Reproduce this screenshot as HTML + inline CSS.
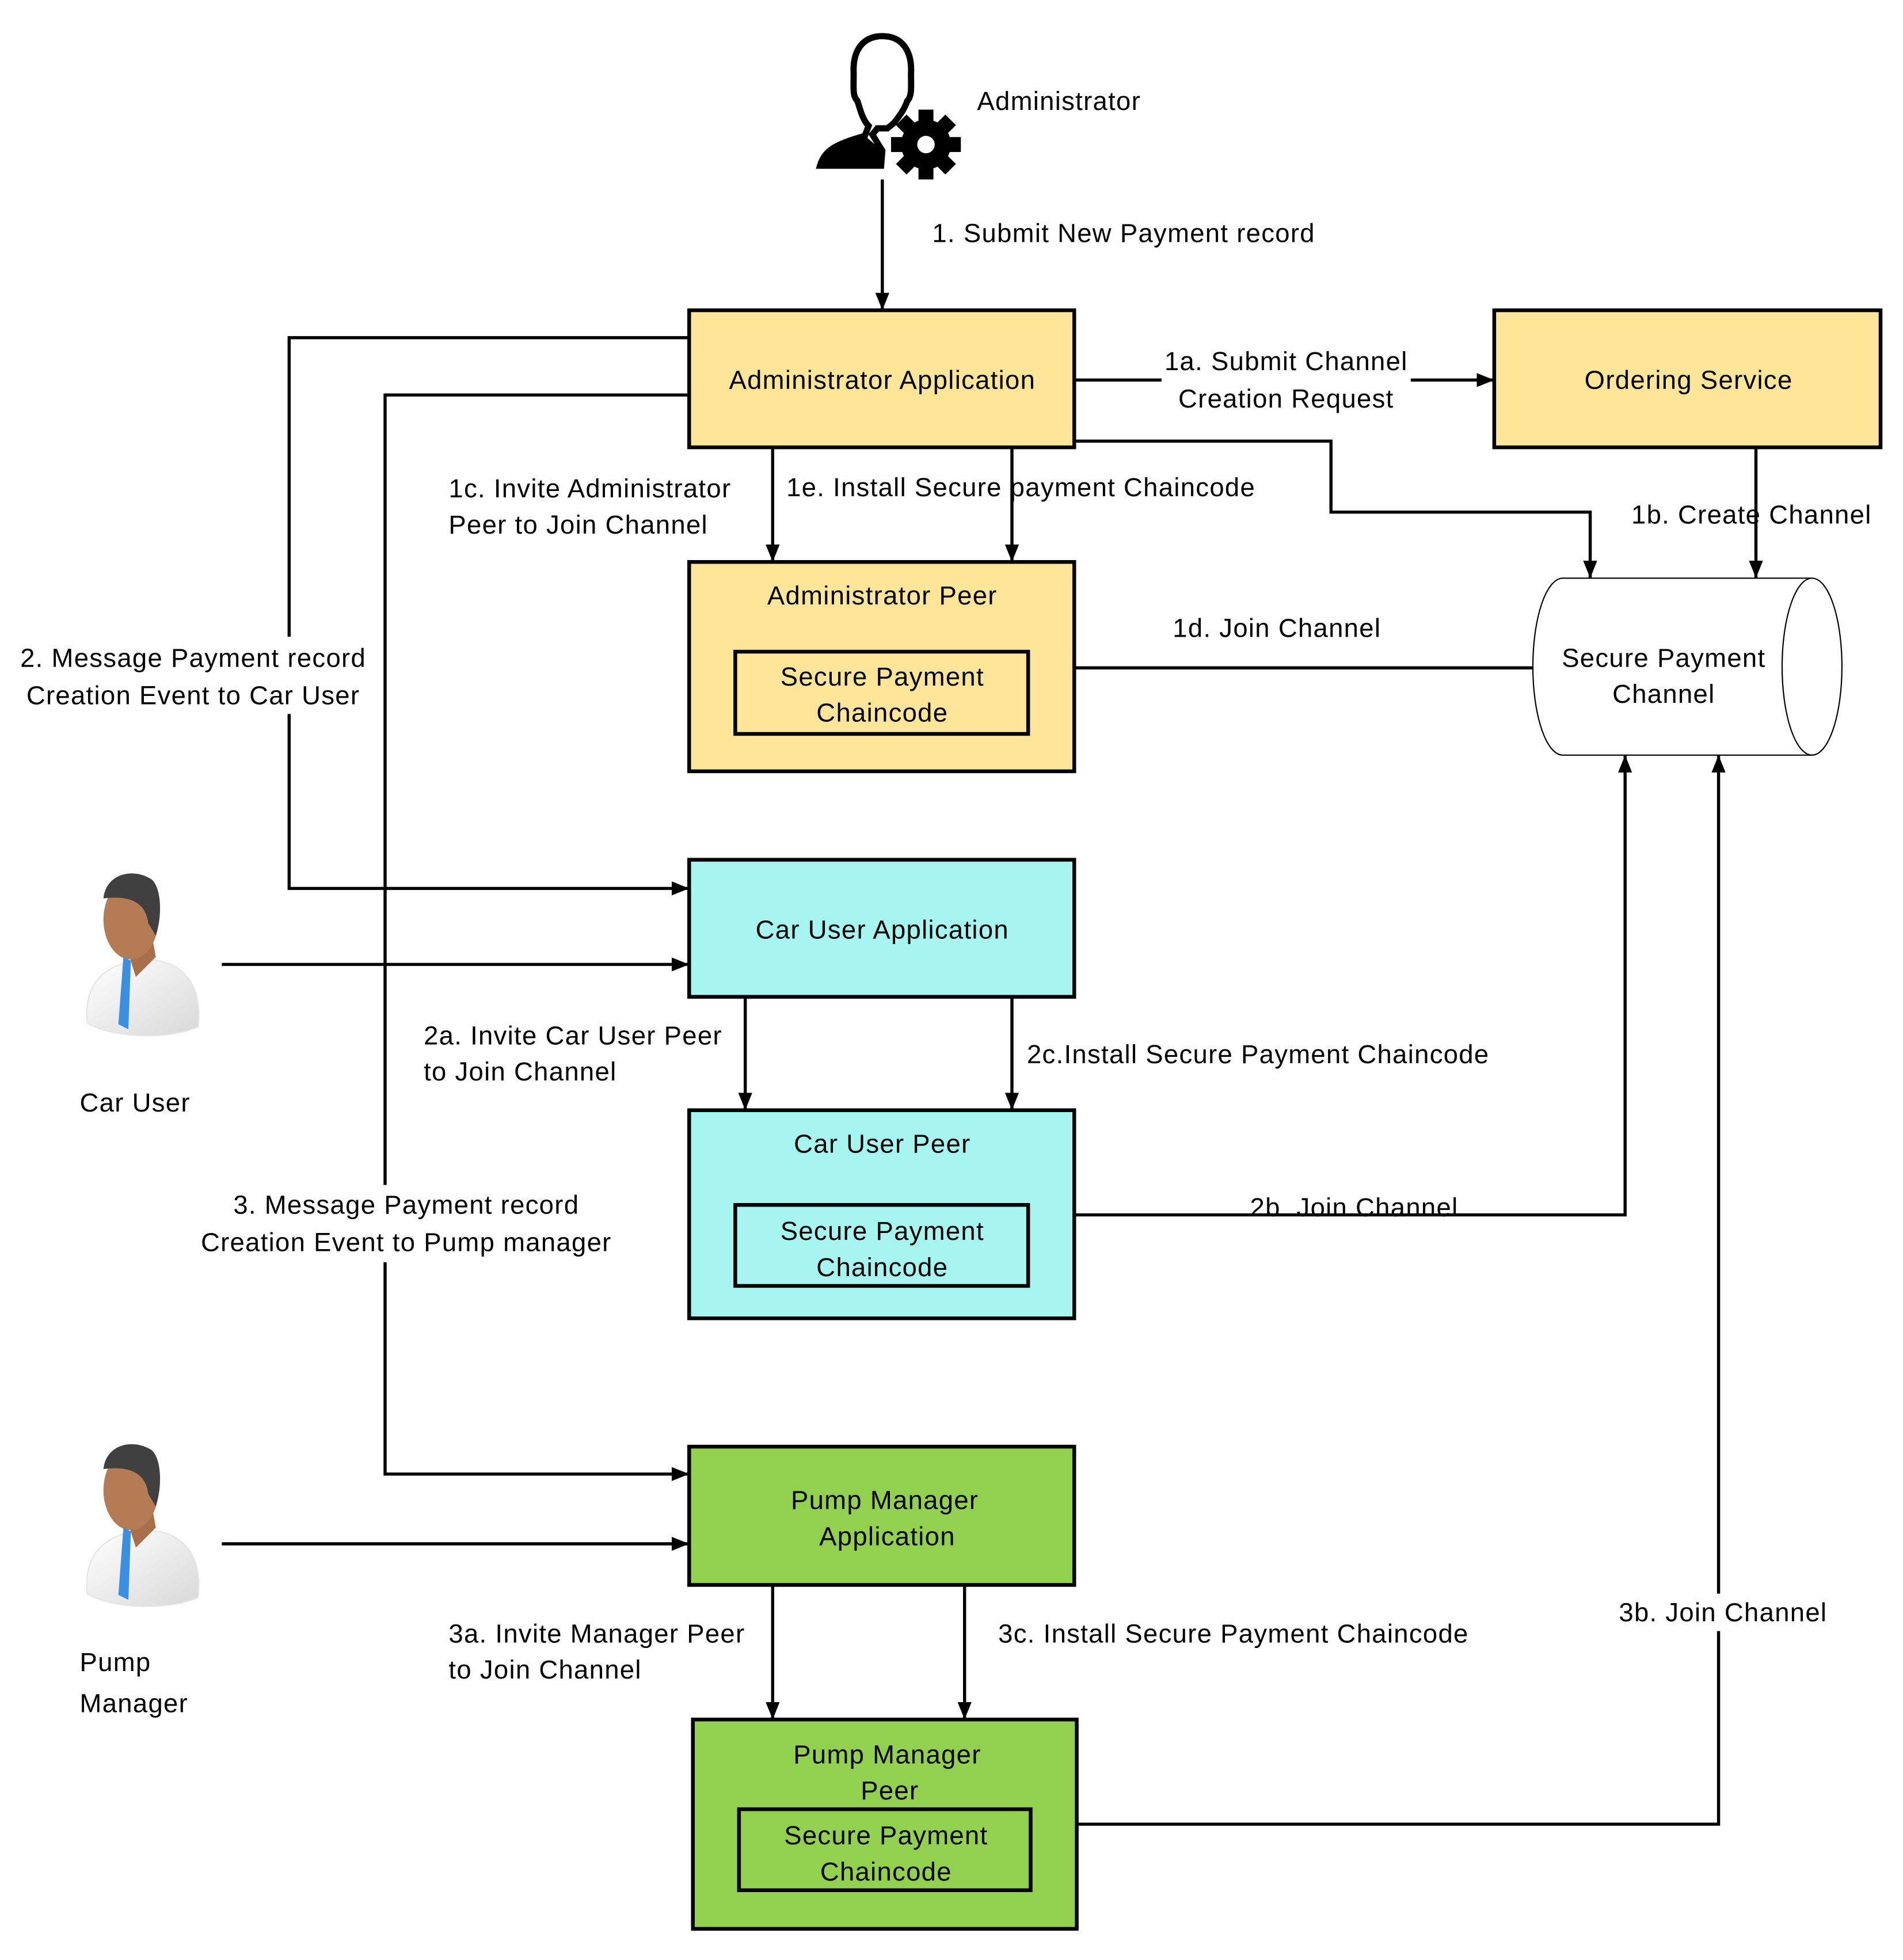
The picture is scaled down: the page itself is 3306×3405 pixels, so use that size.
<!DOCTYPE html>
<html><head><meta charset="utf-8"><style>
html,body{margin:0;padding:0;background:#fff;}
svg{display:block;}
text{font-family:"Liberation Sans",sans-serif;font-size:21px;letter-spacing:0.6px;fill:#000;}
</style></head><body>
<svg width="3306" height="3405" viewBox="0 0 1527 1573" preserveAspectRatio="none" xmlns="http://www.w3.org/2000/svg">
<defs>
<marker id="b" viewBox="0 0 10 10" refX="10" refY="5" markerWidth="14" markerHeight="14" orient="auto" markerUnits="userSpaceOnUse"><path d="M0,1 L10,5 L0,9 z" fill="#000"/></marker>
<linearGradient id="shirt" x1="0" y1="0" x2="1" y2="1"><stop offset="0" stop-color="#fff"/><stop offset="1" stop-color="#d8d8d8"/></linearGradient>
<g id="person">
<path d="M3,125 C0,95 15,80 40,75 L60,75 C85,80 95,100 92,128 C70,138 25,138 3,125 z" fill="url(#shirt)" stroke="#e4e4e4"/>
<path d="M30,50 L42,88 L58,72 L55,55 z" fill="#a86f4a"/>
<ellipse cx="38" cy="42" rx="22" ry="32" fill="#b47b55"/>
<path d="M16,25 C18,5 40,0 55,10 C63,18 63,40 58,55 L52,45 C50,30 40,22 16,25 z" fill="#404040"/>
<path d="M32,72 L38,75 L36,130 L28,126 z" fill="#3b8fe0"/>
</g>
</defs>

<g transform="translate(2,1)">
<g>
<path d="M706,28 C690,28 682,40 683,58 C683,70 682,76 686,80 C688,86 690,95 695,100 L692,108 C672,114 660,118 656,132 L705,132 L706,120 L698,107 L702,102 L710,102 L715,98 C720,92 724,86 726,80 C730,76 729,68 729,58 C730,40 722,28 706,28 z" fill="none" stroke="#000" stroke-width="5"/>
<path d="M692,108 C672,114 660,118 656,132 L705,132 L706,120 z" fill="#000"/>
<circle cx="741" cy="115" r="20" fill="#000"/>
<g fill="#000">
<rect x="735" y="87" width="12" height="56"/>
<rect x="713" y="109" width="56" height="12"/>
<rect x="735" y="87" width="12" height="56" transform="rotate(45 741 115)"/>
<rect x="735" y="87" width="12" height="56" transform="rotate(-45 741 115)"/>
</g>
<circle cx="741" cy="115" r="7" fill="#fff"/>
</g>
<text x="782" y="80" dominant-baseline="central" font-size="24" letter-spacing="3.5">Administrator</text>

<g stroke="#000" stroke-width="2.5" fill="none">
<line x1="706" y1="143" x2="706" y2="248" marker-end="url(#b)"/>
<line x1="860" y1="304" x2="1197" y2="304" marker-end="url(#b)"/>
<polyline points="860,353 1066,353 1066,410 1274,410 1274,463" marker-end="url(#b)"/>
<line x1="1407" y1="358" x2="1407" y2="463" marker-end="url(#b)"/>
<line x1="618" y1="358" x2="618" y2="450" marker-end="url(#b)"/>
<line x1="810" y1="358" x2="810" y2="450" marker-end="url(#b)"/>
<line x1="860" y1="535" x2="1228" y2="535"/>
<polyline points="551,270 230,270 230,712 551,712" marker-end="url(#b)"/>
<polyline points="551,316 307,316 307,1182 551,1182" marker-end="url(#b)"/>
<line x1="176" y1="773" x2="551" y2="773" marker-end="url(#b)"/>
<line x1="596" y1="799" x2="596" y2="890" marker-end="url(#b)"/>
<line x1="810" y1="799" x2="810" y2="890" marker-end="url(#b)"/>
<polyline points="860,974 1302,974 1302,605" marker-end="url(#b)"/>
<line x1="176" y1="1238" x2="551" y2="1238" marker-end="url(#b)"/>
<line x1="618" y1="1271" x2="618" y2="1379" marker-end="url(#b)"/>
<line x1="772" y1="1271" x2="772" y2="1379" marker-end="url(#b)"/>
<polyline points="862,1463 1377,1463 1377,605" marker-end="url(#b)"/>
</g>

<rect x="8" y="510" width="292" height="62" fill="#fff"/>
<rect x="150" y="950" width="350" height="62" fill="#fff"/>
<rect x="930" y="276" width="200" height="58" fill="#fff"/>
<rect x="1290" y="1278" width="176" height="30" fill="#fff"/>

<g stroke="#000" stroke-width="3">
<rect x="551" y="248" width="309" height="110" fill="#FFE599"/>
<rect x="1197" y="248" width="310" height="110" fill="#FFE599"/>
<rect x="551" y="450" width="309" height="168" fill="#FFE599"/>
<rect x="588" y="522" width="235" height="66" fill="#FFE599"/>
<rect x="551" y="689" width="309" height="110" fill="#A6F5F0"/>
<rect x="551" y="890" width="309" height="167" fill="#A6F5F0"/>
<rect x="588" y="966" width="235" height="65" fill="#A6F5F0"/>
<rect x="551" y="1160" width="309" height="111" fill="#92D050"/>
<rect x="554" y="1379" width="308" height="168" fill="#92D050"/>
<rect x="591" y="1451" width="234" height="65" fill="#92D050"/>
</g>

<g stroke="#000" stroke-width="1">
<path d="M1252,463 L1452,463 A24,71 0 0 1 1452,605 L1252,605 A24,71 0 0 1 1252,463 z" fill="#fff"/>
<path d="M1452,463 A24,71 0 0 0 1452,605" fill="none"/>
</g>

<use href="#person" x="65" y="695"/>
<use href="#person" x="65" y="1153"/>

<g dominant-baseline="central" text-anchor="middle">
<text x="706" y="304">Administrator Application</text>
<text x="1353" y="304">Ordering Service</text>
<text x="706" y="477">Administrator Peer</text>
<text x="706" y="542">Secure Payment</text>
<text x="706" y="571">Chaincode</text>
<text x="1333" y="527">Secure Payment</text>
<text x="1333" y="556">Channel</text>
<text x="706" y="745">Car User Application</text>
<text x="706" y="917">Car User Peer</text>
<text x="706" y="987">Secure Payment</text>
<text x="706" y="1016">Chaincode</text>
<text x="708" y="1203">Pump Manager</text>
<text x="710" y="1232">Application</text>
<text x="710" y="1407">Pump Manager</text>
<text x="712" y="1436">Peer</text>
<text x="709" y="1472">Secure Payment</text>
<text x="709" y="1501">Chaincode</text>
<text x="1030" y="289">1a. Submit Channel</text>
<text x="1030" y="319">Creation Request</text>
<text x="153" y="527">2. Message Payment record</text>
<text x="153" y="557">Creation Event to Car User</text>
<text x="324" y="966">3. Message Payment record</text>
<text x="324" y="996">Creation Event to Pump manager</text>
</g>
<g dominant-baseline="central">
<text x="746" y="186">1. Submit New Payment record</text>
<text x="1307" y="412">1b. Create Channel</text>
<text x="358" y="391">1c. Invite Administrator</text>
<text x="358" y="420">Peer  to Join Channel</text>
<text x="629" y="390">1e. Install Secure payment Chaincode</text>
<text x="939" y="503">1d. Join Channel</text>
<text x="338" y="830">2a. Invite Car User Peer</text>
<text x="338" y="859">to Join Channel</text>
<text x="822" y="845">2c.Install Secure Payment Chaincode</text>
<text x="1001" y="968">2b. Join Channel</text>
<text x="358" y="1310">3a. Invite Manager Peer</text>
<text x="358" y="1339">to Join Channel</text>
<text x="799" y="1310">3c. Install Secure Payment Chaincode</text>
<text x="1297" y="1293">3b. Join Channel</text>
<text x="62" y="884" font-size="24" letter-spacing="1.5">Car User</text>
<text x="62" y="1333" font-size="24" letter-spacing="1.5">Pump</text>
<text x="62" y="1366" font-size="24" letter-spacing="1.5">Manager</text>
</g>
</g>
</svg>
</body></html>
